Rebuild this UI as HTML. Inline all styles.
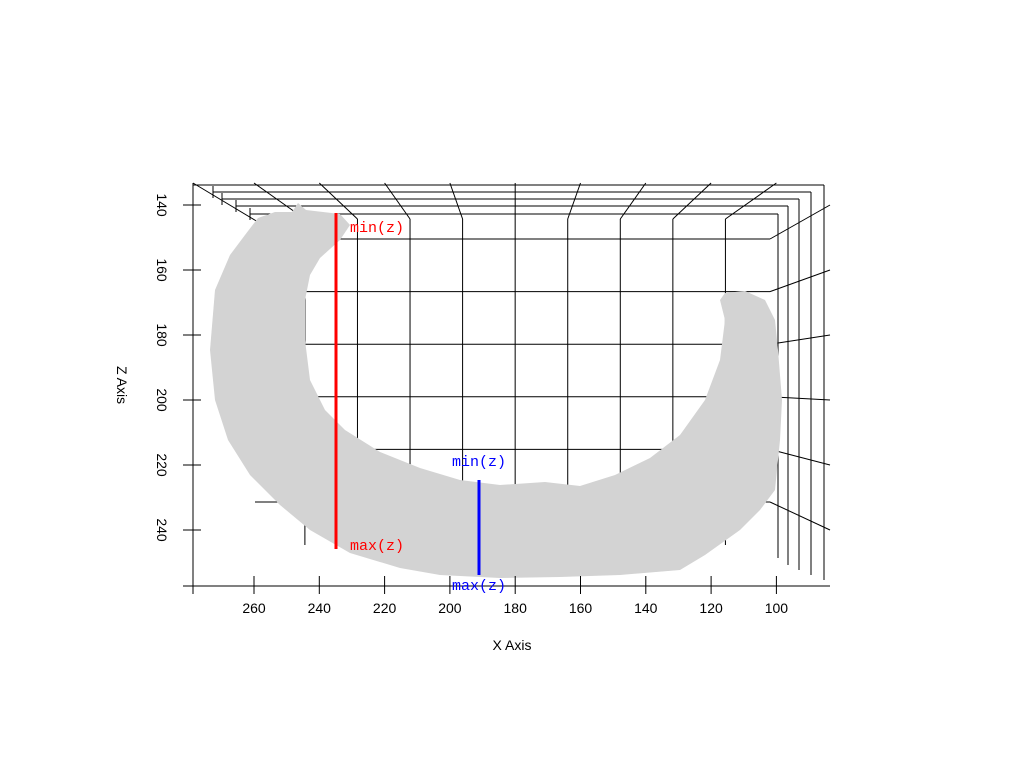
<!DOCTYPE html>
<html><head><meta charset="utf-8"><style>
html,body{margin:0;padding:0;background:#fff;}
svg{display:block;font-family:"Liberation Sans",sans-serif;}
</style></head><body>
<svg id="chart" width="1024" height="768" viewBox="0 0 1024 768" xmlns="http://www.w3.org/2000/svg">
<g id="back" stroke="#000" stroke-width="1" fill="none"></g>
<polygon fill="#d3d3d3" points="258,218 275,212 292,212 298,203 306,210 340,214 350,225 340,240 320,258 310,275 305,300 305,340 310,380 325,410 345,430 380,452 420,468 460,480 500,485 545,482 580,486 615,475 650,458 680,435 705,400 720,360 725,320 720,300 725,293 745,291 765,300 775,320 778,350 782,400 780,440 775,490 760,510 740,530 705,555 680,570 620,575 560,577 500,578 440,575 400,568 350,553 310,530 280,505 250,475 228,440 215,400 210,350 215,290 230,255 245,235"/>
<g id="axes" stroke="#000" stroke-width="1" fill="none"></g>
<g id="labels" font-size="14" fill="#000"></g>
<line x1="336" y1="213" x2="336" y2="549" stroke="#f00" stroke-width="3"/>
<line x1="479" y1="480" x2="479" y2="575" stroke="#00f" stroke-width="3"/>
<g font-family="'Liberation Mono',monospace" font-size="15">
<text x="350" y="232" fill="#f00">min(z)</text>
<text x="350" y="550" fill="#f00">max(z)</text>
<text x="452" y="466" fill="#00f">min(z)</text>
<text x="452" y="590" fill="#00f">max(z)</text>
</g>
<text x="512" y="650" font-size="14" text-anchor="middle">X Axis</text>
<text transform="translate(117,385) rotate(90)" font-size="14" text-anchor="middle">Z Axis</text>
</svg>
<script>
const xTicks=[260,240,220,200,180,160,140,120,100];
const zTicks=[140,160,180,200,220,240];
const backRows=[160,176,192,208,224,240];
function sx(v){return 254+(260-v)*65.3/20;}
function sz(v){return 205+(v-140)*65/20;}
function bx(v){return 515+(sx(v)-515)*0.805;}
function by(v){return 239+(v-160)*52.6/16;}
const NS="http://www.w3.org/2000/svg";
function ln(g,x1,y1,x2,y2,name){const l=document.createElementNS(NS,'line');
l.setAttribute('x1',x1);l.setAttribute('y1',y1);l.setAttribute('x2',x2);l.setAttribute('y2',y2);


g.appendChild(l);return l;}
const back=document.getElementById('back'),axes=document.getElementById('axes'),lab=document.getElementById('labels');
// back plane
backRows.forEach(v=>{ln(back,255,by(v),770,by(v),'back-gridline-h');});
xTicks.forEach(v=>{const b=bx(v);if(b>290){ln(back,b,219,b,545,'back-gridline-v');ln(back,sx(v),183,b,219,'depth-line-top');}});
backRows.forEach((v,i)=>{ln(back,770,by(v),830,sz(zTicks[i]),'depth-line-right');});
// nested frame
const tops=[185,192,199,206,214],lefts=[193,213,222,236,250],rights=[824,811,799,788,778],bots=[580,575,570,565,558];
tops.forEach((t,i)=>{ln(back,lefts[i],t,rights[i],t,'frame-top');ln(back,rights[i],t,rights[i],bots[i],'frame-right');});
ln(back,193,183,258,222,'depth-axis');
[213,222,236,250].forEach((x,i)=>{ln(back,x,tops[i+1]-6,x,tops[i+1]+6,'depth-tick');});
// axes
ln(axes,183,586,830,586,'x-axis-line');
ln(axes,193,183,193,592,'z-axis-line');
xTicks.forEach(v=>{const x=sx(v);ln(axes,x,576,x,594,'x-tick');
const t=document.createElementNS(NS,'text');t.setAttribute('x',x);t.setAttribute('y',613);t.setAttribute('text-anchor','middle');t.textContent=v;


lab.appendChild(t);});
zTicks.forEach(v=>{const y=sz(v);ln(axes,183,y,201,y,'z-tick');
const t=document.createElementNS(NS,'text');t.setAttribute('transform','translate(157,'+y+') rotate(90)');t.setAttribute('text-anchor','middle');t.textContent=v;


lab.appendChild(t);});
ln(axes,193,586,193,594,'x-tick');
</script>
</body></html>
